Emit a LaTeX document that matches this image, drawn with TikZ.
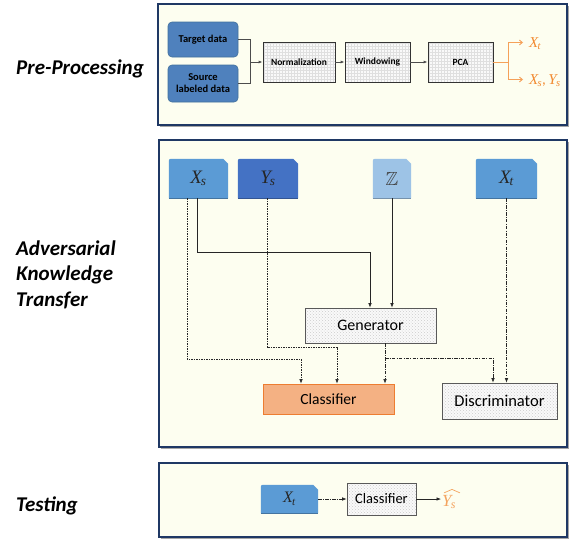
\documentclass[tikz,border=0pt]{standalone}
\usepackage{fontspec}
\setmainfont{Carlito}
\newfontfamily\mfont{Liberation Serif}
\usepackage{amssymb}
\usetikzlibrary{arrows.meta,patterns,shadows,backgrounds}
\definecolor{navy}{HTML}{1F3864}
\definecolor{panelbg}{RGB}{253,254,240}
\definecolor{blueA}{HTML}{5B9BD5}
\definecolor{blueB}{HTML}{4472C4}
\definecolor{blueC}{HTML}{9DC3E6}
\definecolor{blueT}{HTML}{4F81BD}
\definecolor{blueTd}{HTML}{41719C}
\definecolor{orng}{HTML}{F28A30}
\definecolor{orngL}{HTML}{F4A460}
\definecolor{salmon}{HTML}{F4B183}
\definecolor{salmonD}{HTML}{ED7D31}
\newcommand{\mv}[2]{{\mfont\itshape #1\kern-0.05em\textsubscript{#2}}}
\newcommand{\snipfill}[2]{%
  \begin{scope}[on background layer]
    \fill[#2] (#1.south west) [rounded corners=2pt]-- (#1.north west) [sharp corners]-- ([xshift=-5pt]#1.north east) -- ([yshift=-5pt]#1.north east) -- (#1.south east) -- cycle;
    \draw[#2!75!black, line width=0.6pt] (#1.south west) -- (#1.south east);
  \end{scope}}
\begin{document}
\begin{tikzpicture}[x=1pt,y=-1pt,
  panel/.style={draw=navy, line width=2pt, fill=panelbg, drop shadow={shadow xshift=1.5pt, shadow yshift=-1.5pt, opacity=0.35, fill=black}},
  lbl/.style={font=\fontsize{21}{25.5}\selectfont\bfseries\itshape, align=left, anchor=west, inner sep=0pt},
  databox/.style={draw=blueTd, line width=0.6pt, fill=blueT, rounded corners=4pt, font=\fontsize{10.5}{12}\selectfont\bfseries, align=center, inner sep=0pt},
  gridbox/.style={draw=black!80, line width=0.8pt, preaction={fill=gray!5}, pattern=grid, pattern color=gray!25, font=\fontsize{9.5}{11}\selectfont\bfseries, inner sep=0pt},
  dotbox/.style={draw=black!65, line width=0.7pt, preaction={fill=gray!5}, pattern=crosshatch dots, pattern color=gray!40, inner sep=0pt},
  snip/.style={inner sep=0pt, font=\fontsize{19}{19}\selectfont, text=black!85},
  gline/.style={draw=gray!60!black, line width=0.8pt},
  garr/.style={gline, -{Latex[length=4pt,width=3pt]}},
  oline/.style={draw=orng!80, line width=0.9pt},
  oarr/.style={oline, -{Straight Barb[length=3pt,width=5pt]}},
  olbl/.style={anchor=west, inner sep=1pt, text=orng, font=\fontsize{15}{15}\selectfont},
  arr/.style={draw=black!85, line width=0.6pt, -{Latex[length=4.5pt,width=3.5pt]}},
  dotarr/.style={arr, dash pattern=on 1.5pt off 1pt},
  dasharr/.style={arr, dash pattern=on 3.5pt off 1.2pt on 1pt off 1.2pt}
]
\useasboundingbox (0,0) rectangle (569,541);
\begin{scope}[on background layer]
\path[panel] (158,4) rectangle (567,125);
\path[panel] (159,140) rectangle (567,447);
\path[panel] (159,463) rectangle (567,537);
\end{scope}

% left labels
\node[lbl] (lpp) at (16,69) {Pre-Processing};
\node[lbl] (lakt) at (16,274.5) {Adversarial\\Knowledge\\Transfer};
\node[lbl] (ltest) at (16,506) {Testing};

% panel 1
\node[databox, minimum width=70pt, minimum height=35pt] (tgt) at (203,39.5) {Target data};
\node[databox, minimum width=70pt, minimum height=37pt] (src) at (203,83.5) {Source\\labeled data};
\node[gridbox, minimum width=72pt, minimum height=40pt] (norm) at (299,62) {Normalization};
\node[gridbox, minimum width=65pt, minimum height=40pt] (win) at (377.5,62) {Windowing};
\node[gridbox, minimum width=65pt, minimum height=40pt] (pca) at (460.5,62) {PCA};
\coordinate (jn) at (250,62);
\draw[gline] (tgt.east) -| (jn);
\draw[gline] (src.east) -| (jn);
\draw[garr] (jn) -- (norm.west);
\draw[garr] (norm.east) -- (win.west);
\draw[garr] (win.east) -- (pca.west);
\coordinate (oj) at (508,62);
\node[olbl] (oxt) at (528,44) {\mv{X}{t}};
\node[olbl] (oxs) at (528,81) {\mv{X}{s},\,\mv{Y}{s}};
\draw[oline] (pca.east) -- (oj);
\draw[oarr, shorten >=5pt] (oj) |- ([yshift=1.5pt]oxt.west);
\draw[oarr, shorten >=5pt] (oj) |- ([yshift=1.5pt]oxs.west);

% panel 2
\node[snip, minimum width=59pt, minimum height=39pt] (xs) at (198.5,178.5) {\mv{X}{s}};
\node[snip, minimum width=60pt, minimum height=39pt] (ys) at (268,178.5) {\mv{Y}{s}};
\node[snip, minimum width=38pt, minimum height=39pt, text=black!75] (z) at (392,178.5) {$\mathbb{Z}$};
\node[snip, minimum width=61pt, minimum height=39pt] (xt) at (506.5,178.5) {\mv{X}{t}};
\snipfill{xs}{blueA}
\snipfill{ys}{blueB}
\snipfill{z}{blueC}
\snipfill{xt}{blueA}

\node[dotbox, minimum width=131pt, minimum height=35pt, font=\fontsize{16}{16}\selectfont] (gen) at (370.5,325.5) {Generator};
\node[draw=salmonD, line width=0.8pt, fill=salmon, minimum width=131pt, minimum height=30pt, inner sep=0pt, font=\fontsize{15.5}{15.5}\selectfont] (cls) at (328.5,399) {Classifier};
\node[dotbox, minimum width=115pt, minimum height=36pt, font=\fontsize{16.5}{16.5}\selectfont] (disc) at (499.5,401) {Discriminator};

\draw[arr] ([xshift=-1.5pt]xs.south) -- (197,252) -- (370,252) -- ([xshift=-0.5pt]gen.north);
\draw[arr] (z.south) -- (z.south |- gen.north);
\draw[dotarr] ([xshift=-11.5pt]xs.south) -- (187,359) -- (301,359) -- ([xshift=-27.5pt]cls.north);
\draw[dotarr] ([xshift=-1pt]ys.south) -- (267,347) -- (337,347) -- ([xshift=8.5pt]cls.north);
\draw[dasharr] ([xshift=14.5pt]gen.south) -- ([xshift=56.5pt]cls.north);
\draw[dasharr] (385,358) -- (493,358) -- ([xshift=-6.5pt]disc.north);
\draw[dasharr] (xt.south) -- (xt.south |- disc.north);

% panel 3
\node[snip, minimum width=57pt, minimum height=28pt, font=\fontsize{16}{16}\selectfont] (xt2) at (289.5,499) {\mv{X}{t}};
\snipfill{xt2}{blueA}
\node[dotbox, minimum width=69pt, minimum height=32pt, font=\fontsize{14.5}{14.5}\selectfont] (cls2) at (381.5,499) {Classifier};
\node[anchor=west, inner sep=1pt, text=orngL, font=\fontsize{17}{17}\selectfont] (yhat) at (441,502) {\mv{Y}{s}};
\draw[orngL, line width=0.7pt, line join=round] ([xshift=3pt,yshift=1pt]yhat.north west) -- ([xshift=11pt,yshift=4.5pt]yhat.north west) -- ([xshift=19pt,yshift=1pt]yhat.north west);
\draw[arr] (cls2.east) -- (cls2.east -| yhat.west);
\draw[dasharr] (xt2.east) -- (cls2.west);
\end{tikzpicture}
\end{document}
